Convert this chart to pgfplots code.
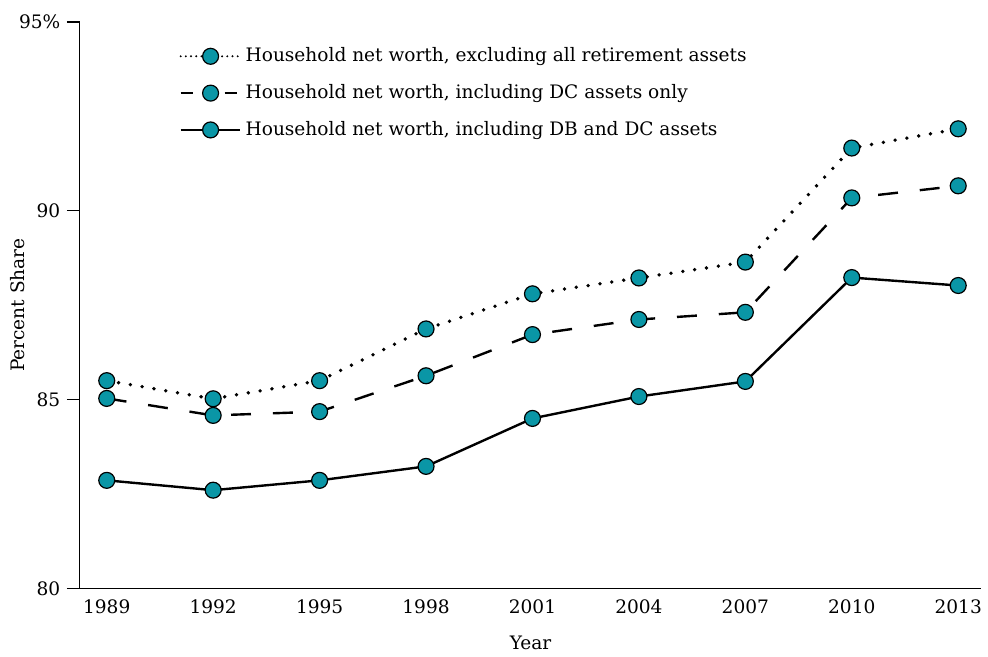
\documentclass[border=0pt]{standalone}
\usepackage{fontspec}
\setmainfont{DejaVu Serif}
\usepackage{pgfplots}
\pgfplotsset{compat=1.18}
\definecolor{teal1}{RGB}{10,150,166}
\begin{document}
\fontsize{9.3}{11}\selectfont
\begin{tikzpicture}
\begin{axis}[
  scale only axis, width=452pt, height=284pt,
  xmin=1988.24, xmax=2013.65, ymin=80, ymax=95,
  axis x line*=bottom, axis y line*=left,
  axis line style={line width=0.7pt,-},
  xtick={1989,1992,...,2013}, xticklabel style={/pgf/number format/1000 sep=, yshift=-2.5pt},
  ytick={80,85,90,95}, yticklabels={80,85,90,95\%},
  xtick align=inside, ytick align=outside, major tick length=6.5pt,
  every tick/.style={black, line width=0.7pt},
  xtick style={draw=none},
  /pgf/number format/assume math mode=true,
  ylabel={Percent Share}, xlabel={Year},
  ylabel style={at={(axis description cs:-0.0686,0.5)}, anchor=center},
  xlabel style={at={(axis description cs:0.5,-0.097)}, anchor=center},
  legend style={draw=none, fill=none, at={(axis description cs:0.1035,0.969)}, anchor=north west, row sep=6pt, font=\fontsize{9.3}{11}\selectfont},
  legend cell align=left,
  legend image code/.code={\draw[mark repeat=2,mark phase=2] plot coordinates {(0pt,0pt) (15pt,0pt) (30pt,0pt)};},
  every axis plot/.append style={line width=1.2pt, mark=*, mark size=4pt, mark options={fill=teal1, draw=black, line width=0.6pt, solid}},
]
\addplot[black, line cap=round, dash pattern=on 0pt off 6pt, line width=1.9pt,
  legend image post style={line width=1.1pt, dash pattern=on 0pt off 2.6pt}] coordinates {
(1989,85.50) (1992,85.02) (1995,85.50) (1998,86.87) (2001,87.80) (2004,88.22) (2007,88.64) (2010,91.66) (2013,92.17)};
\addlegendentry{Household net worth, excluding all retirement assets}
\addplot[black, dash pattern=on 10pt off 11pt,
  legend image post style={dash pattern=on 6pt off 5pt}] coordinates {
(1989,85.03) (1992,84.58) (1995,84.68) (1998,85.63) (2001,86.72) (2004,87.12) (2007,87.31) (2010,90.34) (2013,90.66)};
\addlegendentry{Household net worth, including DC assets only}
\addplot[black] coordinates {
(1989,82.86) (1992,82.60) (1995,82.86) (1998,83.23) (2001,84.50) (2004,85.08) (2007,85.48) (2010,88.23) (2013,88.02)};
\addlegendentry{Household net worth, including DB and DC assets}
\coordinate (bl) at (rel axis cs:0,0);
\coordinate (tr) at (rel axis cs:1,1);
\end{axis}
\path (bl) ++(-40pt,-32.5pt);
\path (tr) ++(1.5pt,11pt);
\end{tikzpicture}
\end{document}
